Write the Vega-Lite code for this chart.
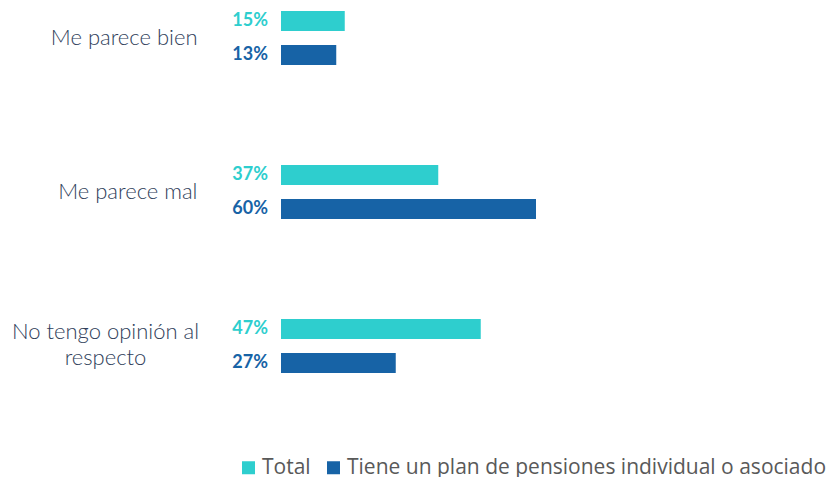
{
  "$schema": "https://vega.github.io/schema/vega-lite/v6.json",
  "autosize": {"type": "none"},
  "padding": {"left": 281, "right": 121, "top": 0, "bottom": 93},
  "width": 425,
  "height": 384,
  "background": "white",
  "config": {"view": {"stroke": null}},
  "data": {
    "values": [
      {"categoria": "Me parece bien", "serie": "Total", "valor": 0.15},
      {"categoria": "Me parece bien", "serie": "Tiene un plan de pensiones individual o asociado", "valor": 0.13},
      {"categoria": "Me parece mal", "serie": "Total", "valor": 0.37},
      {"categoria": "Me parece mal", "serie": "Tiene un plan de pensiones individual o asociado", "valor": 0.60},
      {"categoria": "No tengo opinión al respecto", "serie": "Total", "valor": 0.47},
      {"categoria": "No tengo opinión al respecto", "serie": "Tiene un plan de pensiones individual o asociado", "valor": 0.27}
    ]
  },
  "encoding": {
    "y": {
      "field": "categoria",
      "type": "nominal",
      "sort": ["Me parece bien", "Me parece mal", "No tengo opinión al respecto"],
      "scale": {"paddingInner": 0.649, "paddingOuter": 0.0714},
      "axis": {
        "title": null,
        "domain": false,
        "ticks": false,
        "labelFont": "Lato",
        "labelFontWeight": 300,
        "labelFontSize": 22,
        "labelColor": "#2f3e5a",
        "labelLineHeight": 26,
        "labelBaseline": "middle",
        "labelAlign": {"condition": {"test": "datum.value == 'No tengo opinión al respecto'", "value": "center"}, "value": "right"},
        "labelPadding": {"condition": {"test": "datum.value == 'No tengo opinión al respecto'", "value": 176}, "value": 84},
        "labelOffset": {"condition": {"test": "datum.value == 'No tengo opinión al respecto'", "value": -14}, "value": 0},
        "labelExpr": "datum.value == 'No tengo opinión al respecto' ? ['No tengo opinión al', 'respecto'] : datum.value",
        "labelLimit": 300
      }
    },
    "yOffset": {
      "field": "serie",
      "type": "nominal",
      "sort": ["Total", "Tiene un plan de pensiones individual o asociado"],
      "scale": {"paddingInner": 0.4118, "paddingOuter": 0}
    },
    "color": {
      "field": "serie",
      "type": "nominal",
      "sort": ["Total", "Tiene un plan de pensiones individual o asociado"],
      "scale": {"domain": ["Total", "Tiene un plan de pensiones individual o asociado"], "range": ["#2ecece", "#1763a6"]},
      "legend": {
        "title": null,
        "orient": "none",
        "direction": "horizontal",
        "legendX": -43,
        "legendY": 457,
        "padding": 0,
        "symbolType": "square",
        "symbolSize": 169,
        "symbolStrokeWidth": 0,
        "labelFont": "Open Sans",
        "labelFontSize": 21,
        "labelColor": "#595959",
        "labelOffset": 3,
        "columnPadding": 12,
        "labelLimit": 600
      }
    }
  },
  "layer": [
    {
      "mark": {"type": "bar"},
      "encoding": {
        "x": {"field": "valor", "type": "quantitative", "scale": {"domain": [0, 1]}, "axis": null}
      }
    },
    {
      "mark": {"type": "text", "align": "right", "baseline": "middle", "dx": -13, "font": "Lato", "fontWeight": "bold", "fontSize": 18},
      "encoding": {
        "x": {"datum": 0, "type": "quantitative"},
        "text": {"field": "valor", "type": "quantitative", "format": ".0%"}
      }
    }
  ]
}
